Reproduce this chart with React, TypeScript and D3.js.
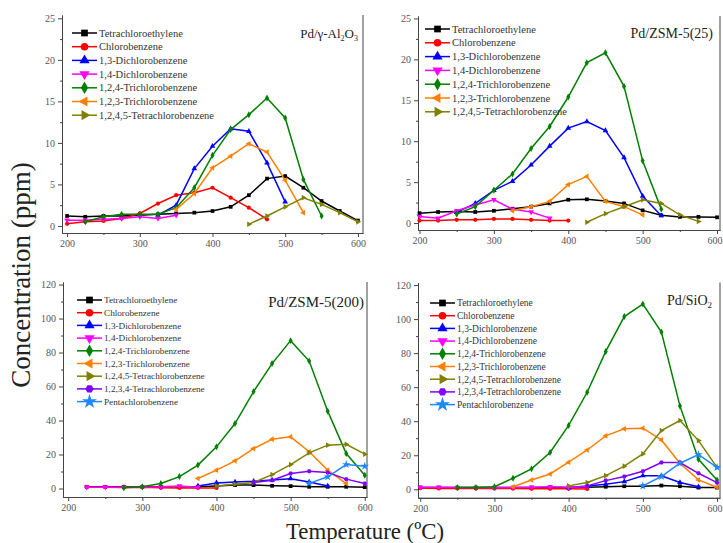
import React, { useEffect, useRef } from 'react';
import * as d3 from 'd3';

const _ = null;

const temps = [200, 225, 250, 275, 300, 325, 350, 375, 400, 425, 450, 475, 500, 525, 550, 575, 600];

const seriesNames = [
  'Tetrachloroethylene',
  'Chlorobenzene',
  '1,3-Dichlorobenzene',
  '1,4-Dichlorobenzene',
  '1,2,4-Trichlorobenzene',
  '1,2,3-Trichlorobenzene',
  '1,2,4,5-Tetrachlorobenzene',
  '1,2,3,4-Tetrachlorobenzene',
  'Pentachlorobenzene',
];
const seriesColors = ['#000000', '#ff0000', '#0000ff', '#ff00ff', '#008000', '#ff8000', '#808000', '#8000ff', '#1e88ff'];

// Pd/γ-Al2O3
const alTce = [1.2, 1.1, 1.2, 1.2, 1.3, 1.4, 1.5, 1.6, 1.8, 2.3, 3.7, 5.7, 6.0, 4.6, 3.0, 1.8, 0.65];
const alCb = [0.25, 0.5, 0.6, 0.9, 1.5, 2.7, 3.7, 4.0, 4.6, 3.4, 2.2, 0.8, _, _, _, _, _];
const alDcb13 = [_, _, _, _, _, 1.3, 2.5, 6.9, 9.6, 11.7, 11.4, 7.6, 2.9, _, _, _, _];
const alDcb14 = [0.7, 0.7, 0.8, 0.9, 1.1, 0.9, 1.3, _, _, _, _, _, _, _, _, _, _];
const alTcb124 = [_, 0.5, 1.1, 1.4, 1.4, 1.4, 2.2, 4.6, 8.5, 11.6, 13.4, 15.4, 13.0, 5.6, 1.2, _, _];
const alTcb123 = [_, _, _, _, _, _, 2.0, 3.9, 7.0, 8.4, 9.9, 8.9, 5.5, 1.6, _, _, _];
const alTecb1245 = [_, _, _, _, _, _, _, _, _, _, 0.2, 1.2, 2.3, 3.4, 2.6, 1.6, 0.5];

// Pd/ZSM-5(25)
const z25Tce = [1.2, 1.35, 1.4, 1.35, 1.5, 1.75, 2.0, 2.4, 2.85, 2.9, 2.7, 2.4, 1.55, 0.95, 0.75, 0.75, 0.7];
const z25Cb = [0.3, 0.3, 0.4, 0.4, 0.5, 0.5, 0.4, 0.3, 0.3, _, _, _, _, _, _, _, _];
const z25Dcb13 = [_, _, 1.3, 2.4, 4.0, 5.1, 7.1, 9.4, 11.6, 12.4, 11.3, 8.0, 3.3, 0.9, _, _, _];
const z25Dcb14 = [0.8, 0.6, 1.5, 2.2, 2.85, 1.7, 1.35, 0.6, _, _, _, _, _, _, _, _, _];
const z25Tcb124 = [_, _, 1.1, 2.0, 4.0, 6.0, 9.1, 11.8, 15.4, 19.6, 20.8, 16.7, 7.6, 1.7, _, _, _];
const z25Tcb123 = [_, _, _, _, _, 1.5, 2.0, 2.65, 4.7, 5.7, 2.65, 2.0, 1.0, _, _, _, _];
const z25Tecb1245 = [_, _, _, _, _, _, _, _, _, 0.1, 1.15, 2.0, 2.85, 2.4, 1.0, 0.2, _];

// Pd/ZSM-5(200)
const z200Tce = [_, 1.0, 1.0, 1.0, 1.0, 1.0, 1.0, 1.0, 1.5, 2.0, 2.0, 1.6, 1.4, 1.0, 1.0, 1.0, 0.8];
const z200Cb = [_, 0.8, 0.8, 0.6, 0.8, 0.4, 0.3, 0.3, 0.3, _, _, _, _, _, _, _, _];
const z200Dcb13 = [_, _, _, _, _, _, _, 1.5, 3.3, 3.8, 4.2, 5.0, 5.8, 3.8, 1.5, _, _];
const z200Dcb14 = [_, 0.8, 0.8, 0.8, 0.9, 1.0, 1.5, 0.8, _, _, _, _, _, _, _, _, _];
const z200Tcb124 = [_, _, _, 0.5, 1.0, 3.0, 7.0, 13.8, 24.5, 38.2, 57, 73.5, 87, 75, 45.5, 20.6, 7.8];
const z200Tcb123 = [_, _, _, _, _, _, _, 5.9, 10.8, 16.3, 23.5, 29, 30.4, 21.6, 10.8, 2.9, _];
const z200Tecb1245 = [_, _, _, _, _, _, _, _, 1.5, 2.5, 3.5, 8.2, 14.1, 21, 25.5, 26, 20.2];
const z200Tecb1234 = [_, _, _, _, _, _, _, _, _, _, 3.5, 4.9, 8.8, 10.2, 9.4, 5.5, 2.9];
const z200Pcb = [_, _, _, _, _, _, _, _, _, _, _, _, _, 3.0, 6.9, 14.1, 13.1];

// Pd/SiO2
const siTce = [1.0, 1.0, 1.0, 1.0, 1.0, 1.0, 1.0, 1.0, 1.0, 1.2, 1.5, 1.8, 1.8, 2.2, 1.8, 1.0, 1.0];
const siCb = [0.8, 0.5, 0.5, 0.4, 0.4, 0.4, 0.3, 0.3, 0.3, 0.2, _, _, _, _, _, _, _];
const siDcb13 = [_, _, _, _, _, _, _, _, 1.0, 2.0, 3.0, 4.5, 8.0, 8.0, 4.0, 1.5, _];
const siDcb14 = [1.2, 1.2, 1.0, 1.0, 1.0, 1.0, 1.2, 1.5, 1.2, 1.5, _, _, _, _, _, _, _];
const siTcb124 = [_, _, 1.0, 1.0, 1.5, 6.5, 12, 21.6, 37.5, 57, 81, 101.5, 108.8, 92.4, 49, 17.6, 5.5];
const siTcb123 = [_, _, _, _, _, 1.5, 5.5, 9.0, 15.9, 23.1, 31.4, 35.5, 35.9, 29, 15.3, 5.5, 1.2];
const siTecb1245 = [_, _, _, _, _, _, _, _, 2.0, 4.0, 8.0, 13.6, 20.8, 34.5, 40.4, 28.6, 12.9];
const siTecb1234 = [_, _, _, _, _, _, _, _, _, 2.0, 5.1, 7.5, 10.6, 15.7, 15.7, 9.4, 3.9];
const siPcb = [_, _, _, _, _, _, _, _, _, _, _, _, 2.0, 7.5, 15.3, 20.4, 12.9];

const xTicks = [200, 300, 400, 500, 600];
const xMinor = [250, 350, 450, 550];
const smallYTicks = [0, 5, 10, 15, 20, 25];
const smallYMinor = [2.5, 7.5, 12.5, 17.5, 22.5];
const bigYTicks = [0, 20, 40, 60, 80, 100, 120];
const bigYMinor = [10, 30, 50, 70, 90, 110];

const symbolHexagon = {
  draw(ctx: any, size: number) {
    const r = Math.sqrt(size / 2.598);
    for (let i = 0; i < 6; i++) {
      const a = (Math.PI / 3) * i;
      if (i === 0) ctx.moveTo(r * Math.cos(a), r * Math.sin(a));
      else ctx.lineTo(r * Math.cos(a), r * Math.sin(a));
    }
    ctx.closePath();
  },
};
// marker type + rotation per series
const markers: [any, number][] = [
  [d3.symbolSquare, 0],
  [d3.symbolCircle, 0],
  [d3.symbolTriangle, 0],
  [d3.symbolTriangle, 180],
  [d3.symbolDiamond, 0],
  [d3.symbolTriangle, -90],
  [d3.symbolTriangle, 90],
  [symbolHexagon, 0],
  [d3.symbolStar, 0],
];

const panels = [
  {
    title: ['Pd/γ-Al', '2', 'O', '3'],
    series: [alTce, alCb, alDcb13, alDcb14, alTcb124, alTcb123, alTecb1245],
    xDomain: [193, 607], xRange: [62, 363],
    yDomain: [-0.85, 25.4], yRange: [233, 15],
    yTicks: smallYTicks, yMinor: smallYMinor,
    titlePos: [358, 38], titleSize: 13,
    legend: { x: 72, y: 33, dy: 13.7, size: 10.5 },
  },
  {
    title: ['Pd/ZSM-5(25)'],
    series: [z25Tce, z25Cb, z25Dcb13, z25Dcb14, z25Tcb124, z25Tcb123, z25Tecb1245],
    xDomain: [198, 604], xRange: [418, 720],
    yDomain: [-0.85, 25.3], yRange: [230, 16],
    yTicks: smallYTicks, yMinor: smallYMinor,
    titlePos: [713, 38], titleSize: 14,
    legend: { x: 425, y: 29, dy: 13.8, size: 10.5 },
  },
  {
    title: ['Pd/ZSM-5(200)'],
    series: [z200Tce, z200Cb, z200Dcb13, z200Dcb14, z200Tcb124, z200Tcb123, z200Tecb1245, z200Tecb1234, z200Pcb],
    xDomain: [193, 603], xRange: [63, 367],
    yDomain: [-5, 121.5], yRange: [497, 282],
    yTicks: bigYTicks, yMinor: bigYMinor,
    titlePos: [364, 307], titleSize: 15,
    legend: { x: 77, y: 300, dy: 12.7, size: 9.2 },
  },
  {
    title: ['Pd/SiO', '2'],
    series: [siTce, siCb, siDcb13, siDcb14, siTcb124, siTcb123, siTecb1245, siTecb1234, siPcb],
    xDomain: [197, 604], xRange: [418, 720],
    yDomain: [-5, 121.5], yRange: [497.8, 282.5],
    yTicks: bigYTicks, yMinor: bigYMinor,
    titlePos: [712, 305], titleSize: 14,
    legend: { x: 430, y: 303, dy: 12.7, size: 9.5 },
  },
];

const FONT = '"Liberation Serif", "Times New Roman", serif';

export default function App() {
  const ref = useRef<SVGSVGElement>(null);

  useEffect(() => {
    const svg = d3.select(ref.current);
    svg.selectAll('*').remove();

    panels.forEach((p) => {
      const x = d3.scaleLinear().domain(p.xDomain).range(p.xRange);
      const y = d3.scaleLinear().domain(p.yDomain).range(p.yRange);
      const g = svg.append('g');

      // axes
      const xAxis = g.append('g').attr('transform', `translate(0,${p.yRange[0]})`)
        .call(d3.axisBottom(x).tickValues(xTicks).tickSize(4).tickSizeOuter(0).tickPadding(3).tickFormat(d3.format('d')));
      g.append('g').attr('transform', `translate(0,${p.yRange[0]})`)
        .call(d3.axisBottom(x).tickValues(xMinor).tickSize(2).tickSizeOuter(0).tickFormat(() => ''));
      const yAxis = g.append('g').attr('transform', `translate(${p.xRange[0]},0)`)
        .call(d3.axisLeft(y).tickValues(p.yTicks).tickSize(4).tickSizeOuter(0).tickPadding(3));
      g.append('g').attr('transform', `translate(${p.xRange[0]},0)`)
        .call(d3.axisLeft(y).tickValues(p.yMinor).tickSize(2).tickSizeOuter(0).tickFormat(() => ''));
      g.append('line')
        .attr('x1', p.xRange[1]).attr('x2', p.xRange[1])
        .attr('y1', p.yRange[0]).attr('y2', p.yRange[1])
        .attr('stroke', '#444').attr('stroke-width', 1);

      g.selectAll('.domain').attr('stroke', '#444');
      g.selectAll('.tick line').attr('stroke', '#444');
      [xAxis, yAxis].forEach((a) =>
        a.selectAll('text').style('font-family', FONT).style('font-size', '10px').attr('fill', '#555')
      );
      // keep the last x label inside the picture on the right-hand panels
      if (x(600) + 9 > 723) {
        xAxis.selectAll('.tick text')
          .filter((d: any) => d === 600)
          .attr('text-anchor', 'end')
          .attr('dx', 723 - x(600) - 1);
      }

      // series
      p.series.forEach((vals, si) => {
        const pts = temps.map((t, i) => ({ t, v: vals[i] })).filter((d) => d.v !== null) as { t: number; v: number }[];
        const color = seriesColors[si];
        g.append('path')
          .datum(pts)
          .attr('d', d3.line<{ t: number; v: number }>().x((d) => x(d.t)).y((d) => y(d.v)))
          .attr('fill', 'none')
          .attr('stroke', color)
          .attr('stroke-width', 1.5);
        const [type, rot] = markers[si];
        g.selectAll(null)
          .data(pts)
          .enter()
          .append('path')
          .attr('d', d3.symbol().type(type).size(si === 8 ? 22 : 14)())
          .attr('transform', (d) => `translate(${x(d.t)},${y(d.v)}) rotate(${rot})`)
          .attr('fill', color);
      });

      // legend
      const lg = p.legend;
      p.series.forEach((_s, si) => {
        const ly = lg.y + si * lg.dy;
        const color = seriesColors[si];
        g.append('line')
          .attr('x1', lg.x).attr('x2', lg.x + 25)
          .attr('y1', ly).attr('y2', ly)
          .attr('stroke', color).attr('stroke-width', 1.5);
        const [type, rot] = markers[si];
        g.append('path')
          .attr('d', d3.symbol().type(type).size(si === 8 ? 70 : 45)())
          .attr('transform', `translate(${lg.x + 12.5},${ly}) rotate(${rot})`)
          .attr('fill', color);
        g.append('text')
          .attr('x', lg.x + 27)
          .attr('y', ly)
          .attr('dy', '0.35em')
          .style('font-family', FONT)
          .style('font-size', lg.size + 'px')
          .attr('fill', '#333')
          .text(seriesNames[si]);
      });

      // title (odd parts are subscripts)
      const t = g.append('text')
        .attr('x', p.titlePos[0])
        .attr('y', p.titlePos[1])
        .attr('text-anchor', 'end')
        .style('font-family', FONT)
        .style('font-size', p.titleSize + 'px')
        .attr('fill', '#222');
      p.title.forEach((part, i) => {
        const span = t.append('tspan').text(part);
        if (i % 2 === 1) span.style('font-size', Math.round(p.titleSize * 0.62) + 'px').attr('dy', 3);
        else if (i > 0) span.attr('dy', -3);
      });
    });

    svg.append('text')
      .attr('transform', 'translate(30,275) rotate(-90)')
      .attr('text-anchor', 'middle')
      .style('font-family', FONT)
      .style('font-size', '27px')
      .attr('fill', '#222')
      .text('Concentration (ppm)');

    svg.append('text')
      .attr('x', 365)
      .attr('y', 539)
      .attr('text-anchor', 'middle')
      .attr('textLength', 158)
      .attr('lengthAdjust', 'spacingAndGlyphs')
      .style('font-family', FONT)
      .style('font-size', '24px')
      .attr('fill', '#222')
      .text('Temperature (ºC)');
  }, []);

  return (
    <svg
      ref={ref}
      width={723}
      height={543}
      style={{ position: 'absolute', left: 0, top: 0, background: '#fff' }}
    />
  );
}
